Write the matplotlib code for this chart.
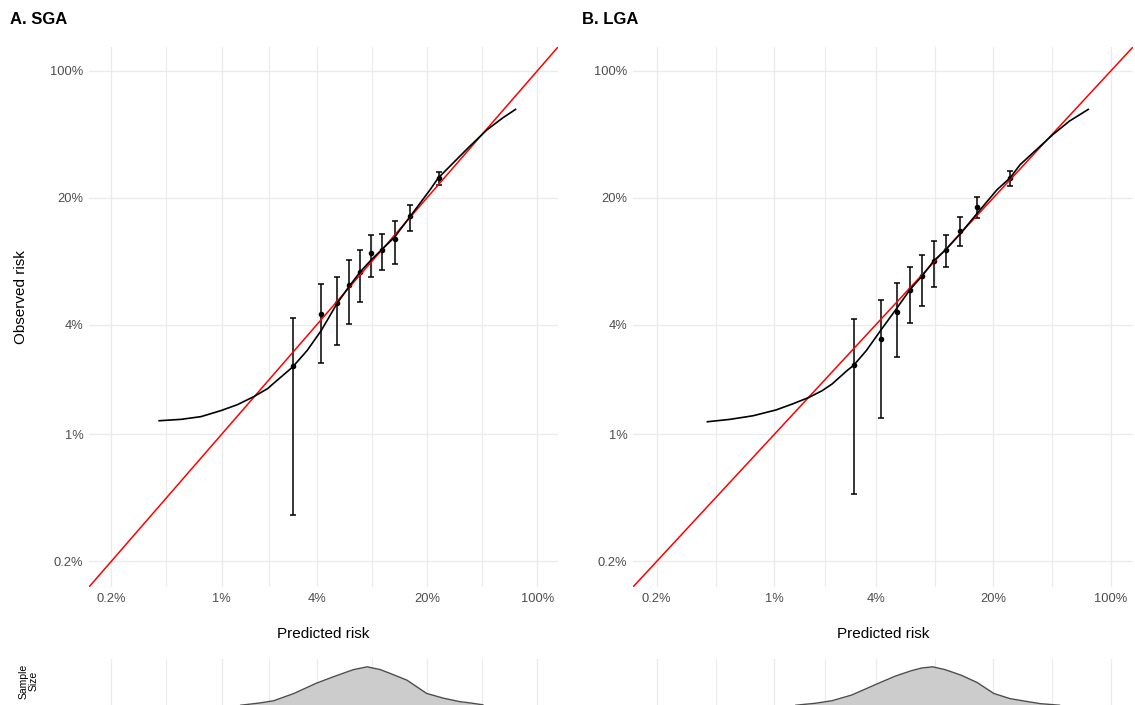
import numpy as np
import matplotlib
matplotlib.use("Agg")
import matplotlib.pyplot as plt
from matplotlib.ticker import FixedLocator, NullFormatter

plt.rcParams['font.family'] = ['Liberation Sans', 'DejaVu Sans']

# ticks
tick_vals = [0.002, 0.01, 0.04, 0.2, 1.0]
tick_labels = ['0.2%', '1%', '4%', '20%', '100%']

# A. SGA - grouped observed vs predicted
sga_pred = [0.0283, 0.0428, 0.0538, 0.0644, 0.0755, 0.0883, 0.104, 0.1245, 0.1563, 0.238]
sga_obs = [0.0236, 0.0457, 0.0524, 0.0659, 0.078, 0.0989, 0.1033, 0.1183, 0.1578, 0.257]
sga_lo = [0.00362, 0.0246, 0.0308, 0.0406, 0.0535, 0.0730, 0.080, 0.0867, 0.131, 0.234]
sga_hi = [0.0435, 0.0667, 0.0734, 0.0908, 0.1028, 0.125, 0.1265, 0.149, 0.1828, 0.2786]
# smoothed calibration curve
sga_curve_x = [0.00402, 0.00553, 0.00739, 0.00989, 0.01259, 0.01596, 0.0195, 0.0223, 0.0281, 0.0348,
               0.0428, 0.0538, 0.0644, 0.0755, 0.0883, 0.104, 0.1245, 0.1563, 0.209, 0.2355, 0.293,
               0.365, 0.4766, 0.605, 0.726]
sga_curve_y = [0.01187, 0.01208, 0.0125, 0.01349, 0.01455, 0.0161, 0.0178, 0.0197, 0.0234, 0.0289,
               0.0373, 0.0524, 0.0653, 0.0783, 0.0908, 0.1043, 0.1213, 0.1578, 0.2213, 0.257, 0.311,
               0.377, 0.471, 0.551, 0.612]
# sample size density (relative)
sga_dens_x = [0.0132, 0.01766, 0.0214, 0.0287, 0.0397, 0.0513, 0.0622, 0.0686, 0.0834, 0.101,
              0.117, 0.149, 0.199, 0.2535, 0.323, 0.373, 0.451]
sga_dens_y = [0.02, 0.08, 0.135, 0.32, 0.58, 0.75, 0.87, 0.93, 1.0, 0.93,
              0.83, 0.66, 0.32, 0.20, 0.11, 0.08, 0.03]

# B. LGA
lga_pred = [0.0295, 0.0428, 0.0533, 0.0641, 0.0753, 0.0887, 0.105, 0.1268, 0.1603, 0.251]
lga_obs = [0.0239, 0.0336, 0.0473, 0.0621, 0.0741, 0.0902, 0.1035, 0.1318, 0.1778, 0.257]
lga_lo = [0.00469, 0.01233, 0.0265, 0.0407, 0.051, 0.0644, 0.0832, 0.108, 0.1538, 0.2306]
lga_hi = [0.0428, 0.0546, 0.0681, 0.0828, 0.0964, 0.1153, 0.124, 0.157, 0.201, 0.281]
lga_curve_x = [0.0040, 0.00545, 0.00746, 0.01023, 0.01283, 0.01607, 0.01923, 0.0220, 0.0270, 0.0295,
               0.0352, 0.0428, 0.0533, 0.0641, 0.0753, 0.0887, 0.105, 0.1268, 0.1603, 0.210, 0.251,
               0.288, 0.3605, 0.452, 0.566, 0.731]
lga_curve_y = [0.01172, 0.01208, 0.01264, 0.01361, 0.01469, 0.01596, 0.01738, 0.0189, 0.0224, 0.0239,
               0.0289, 0.0373, 0.0493, 0.0627, 0.0741, 0.0902, 0.1043, 0.1265, 0.1644, 0.2213, 0.257,
               0.304, 0.368, 0.446, 0.528, 0.612]
lga_dens_x = [0.0134, 0.0175, 0.0220, 0.0288, 0.0405, 0.052, 0.065, 0.075, 0.0871, 0.103,
              0.128, 0.160, 0.201, 0.250, 0.301, 0.38, 0.494]
lga_dens_y = [0.02, 0.07, 0.135, 0.28, 0.56, 0.76, 0.90, 0.97, 1.0, 0.93,
              0.79, 0.60, 0.32, 0.19, 0.13, 0.06, 0.02]

lim = (10 ** -2.84, 10 ** 0.13)
W, H = 1135, 705
fig = plt.figure(figsize=(W / 100, H / 100), dpi=100)

panels = [
    ('A. SGA', 10, 89, 469, sga_pred, sga_obs, sga_lo, sga_hi, sga_curve_x, sga_curve_y, sga_dens_x, sga_dens_y),
    ('B. LGA', 582, 633, 500, lga_pred, lga_obs, lga_lo, lga_hi, lga_curve_x, lga_curve_y, lga_dens_x, lga_dens_y),
]

minor = [np.sqrt(tick_vals[i] * tick_vals[i + 1]) for i in range(len(tick_vals) - 1)]
grid_col = '#EBEBEB'

for title, tx, left, width, px, py, lo, hi, cx, cy, dx, dy in panels:
    ax = fig.add_axes([left / W, 118 / H, width / W, 540 / H])
    ax.set_xscale('log')
    ax.set_yscale('log')
    ax.set_xlim(lim)
    ax.set_ylim(lim)
    ax.xaxis.set_major_locator(FixedLocator(tick_vals))
    ax.yaxis.set_major_locator(FixedLocator(tick_vals))
    ax.xaxis.set_minor_locator(FixedLocator(minor))
    ax.yaxis.set_minor_locator(FixedLocator([]))
    ax.xaxis.set_minor_formatter(NullFormatter())
    ax.yaxis.set_minor_formatter(NullFormatter())
    ax.set_xticklabels(tick_labels)
    ax.set_yticklabels(tick_labels)
    ax.grid(True, which='major', color=grid_col, lw=1.0)
    ax.grid(True, which='minor', axis='x', color=grid_col, lw=0.8)
    ax.set_axisbelow(True)
    for s in ax.spines.values():
        s.set_visible(False)
    ax.tick_params(which='both', length=0, labelsize=9.3, labelcolor='#4D4D4D', pad=4)

    px = np.array(px); py = np.array(py)
    yerr = [py - np.array(lo), np.array(hi) - py]
    ax.errorbar(px, py, yerr=yerr, fmt='o', color='black', ms=3, elinewidth=1.1,
                capsize=2.2, capthick=1.1, zorder=3)
    ax.axline((0.01, 0.01), (0.1, 0.1), color='red', lw=1.1, zorder=4)
    ax.plot(cx, cy, color='black', lw=1.2, zorder=5)
    ax.set_xlabel('Predicted risk', fontsize=11, labelpad=16)

    fig.text(tx / W, 1 - 20 / H, title, fontsize=12, fontweight='bold', va='center', ha='left')

    # density strip
    axd = fig.add_axes([left / W, -1 / H, width / W, 47 / H])
    axd.set_xscale('log')
    axd.set_xlim(lim)
    axd.set_ylim(0, 1.2)
    axd.fill_between(dx, dy, 0, color='#CCCCCC', lw=0)
    axd.plot(dx, dy, color='#4D4D4D', lw=1.0)
    axd.xaxis.set_major_locator(FixedLocator(tick_vals))
    axd.xaxis.set_minor_locator(FixedLocator(minor))
    axd.grid(True, which='major', axis='x', color=grid_col, lw=1.0)
    axd.grid(True, which='minor', axis='x', color=grid_col, lw=0.8)
    axd.set_axisbelow(True)
    axd.set_yticks([])
    axd.tick_params(which='both', length=0, labelbottom=False)
    for s in axd.spines.values():
        s.set_visible(False)

fig.text(21 / W, 1 - 297 / H, 'Observed risk', fontsize=11, rotation=90, va='center', ha='center')
fig.text(29 / W, 1 - 681 / H, 'Sample\nSize', fontsize=7.5, rotation=90, va='center', ha='center',
         linespacing=1.0)

fig.savefig('out.png', dpi=100)
